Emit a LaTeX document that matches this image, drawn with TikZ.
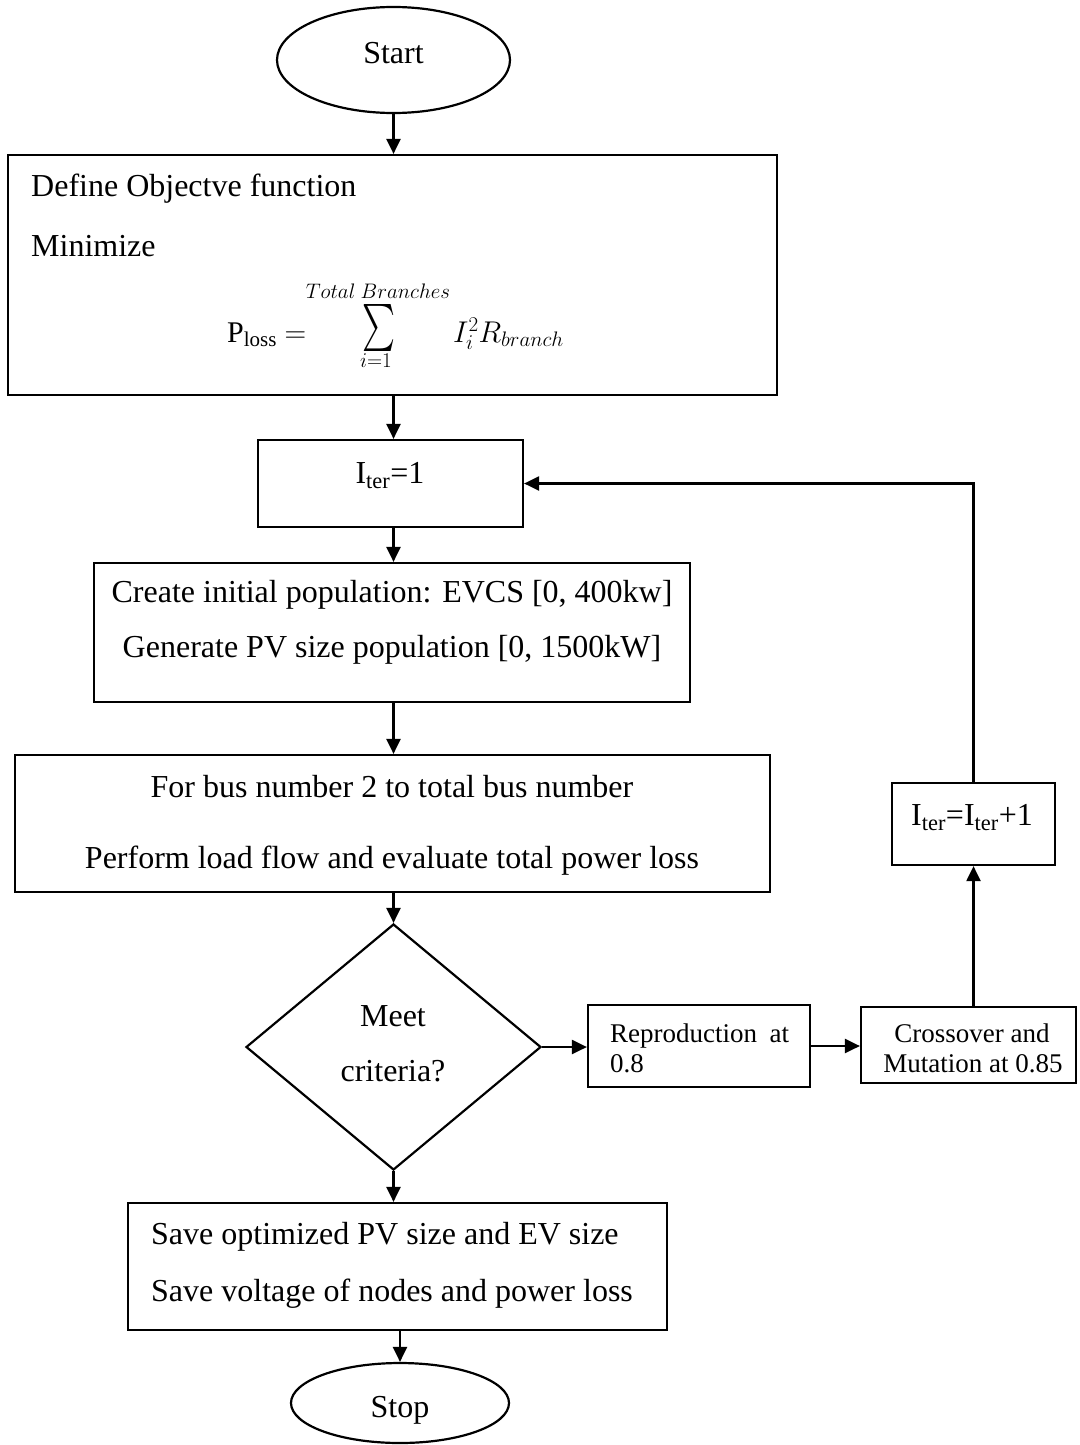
\RequirePackage{fix-cm}
\documentclass[tikz,border=0pt]{standalone}
\usepackage{graphicx}
\usepackage{fontspec}
\setmainfont{Liberation Serif}
\usetikzlibrary{shapes.geometric,arrows.meta}
\begin{document}
\begin{tikzpicture}[x=1pt,y=-1pt,
  box/.style={draw,line width=2.2pt,rectangle,inner sep=0pt},
  term/.style={draw,line width=2.2pt,ellipse,inner sep=0pt},
  decision/.style={draw,line width=2.2pt,diamond,inner sep=0pt},
  txt/.style={inner sep=0pt,text height=21pt,text depth=0pt,font=\fontsize{32}{38}\selectfont},
  smalltxt/.style={inner sep=0pt,text height=18pt,text depth=0pt,font=\fontsize{27}{30}\selectfont},
  mathtxt/.style={inner sep=0pt,font=\fontsize{30}{36}\selectfont},
  limtxt/.style={inner sep=0pt,font=\fontsize{21}{25}\selectfont},
  arr/.style={line width=2.2pt,-{Triangle[length=15pt,width=14pt]}}
]
\useasboundingbox (0,0) rectangle (1079,1445);

% terminals
\node[term,minimum width=233pt,minimum height=106pt] (start) at (393.5,60) {};
\node[txt] (starttxt) at (393.5,53) {Start};
\node[term,minimum width=218pt,minimum height=80pt] (stop) at (400,1403) {};
\node[txt] (stoptxt) at (400,1407) {Stop};

% objective function
\node[box,minimum width=769pt,minimum height=240pt] (obj) at (392.5,275) {};
\node[txt,anchor=west] (obj1) at (31,186) {Define Objectve function};
\node[txt,anchor=west] (obj2) at (31,246) {Minimize};
\node[mathtxt,anchor=base west] (ploss) at (227,342) {P\textsubscript{loss} $=$};
\node[inner sep=0pt] (sigma) at (378.5,328) {\resizebox*{33pt}{47pt}{$\textstyle\sum$}};
\node[limtxt,anchor=south] (sigmatop) at (378,299) {$Total\ Branches$};
\node[limtxt,anchor=north] (sigmabot) at (376,354) {$i{=}1$};
\node[mathtxt,anchor=base west] (lossterm) at (453,342) {$I_i^2R_{branch}$};

% iteration counter
\node[box,minimum width=265pt,minimum height=87pt] (iterone) at (390.5,483.5) {};
\node[txt] (iteronetxt) at (390,473) {I\textsubscript{ter}=1};

% initial population
\node[box,minimum width=596pt,minimum height=139pt] (pop) at (392,632.5) {};
\node[txt] (pop1) at (392,592) {Create initial population: EVCS [0, 400kw]};
\node[txt] (pop2) at (392,647) {Generate PV size population [0, 1500kW]};

% load flow
\node[box,minimum width=755pt,minimum height=137pt] (flow) at (392.5,823.5) {};
\node[txt] (flow1) at (392,787) {For bus number 2 to total bus number};
\node[txt] (flow2) at (392,858) {Perform load flow and evaluate total power loss};

% decision
\node[decision,minimum width=295pt,minimum height=246pt] (dec) at (393.5,1047) {};
\node[txt] (dec1) at (393,1016) {Meet};
\node[txt] (dec2) at (393,1071) {criteria?};

% genetic operators
\node[box,minimum width=222pt,minimum height=82pt] (repro) at (699,1046) {};
\node[smalltxt,anchor=west] (repro1) at (610,1033) {\hbox to 179pt{Reproduction\hfill at}};
\node[smalltxt,anchor=west] (repro2) at (610,1063) {0.8};
\node[box,minimum width=215pt,minimum height=76pt] (cross) at (968.5,1045) {};
\node[smalltxt] (cross1) at (972,1033) {Crossover and};
\node[smalltxt] (cross2) at (973,1063) {Mutation at 0.85};

% counter update
\node[box,minimum width=163pt,minimum height=82pt] (iterplus) at (973.5,824) {};
\node[txt] (iterplustxt) at (972,815) {I\textsubscript{ter}=I\textsubscript{ter}+1};

% results
\node[box,minimum width=539pt,minimum height=127pt] (save) at (397.5,1266.5) {};
\node[txt,anchor=west] (save1) at (151,1234) {Save optimized PV size and EV size};
\node[txt,anchor=west] (save2) at (151,1291) {Save voltage of nodes and power loss};

% main flow
\draw[arr] (start.south) -- (start.south |- obj.north);
\draw[arr] (obj.south -| start) -- (iterone.north -| start);
\draw[arr] (iterone.south -| start) -- (pop.north -| start);
\draw[arr] (pop.south -| start) -- (flow.north -| start);
\draw[arr] (flow.south -| start) -- (dec.north);
\draw[arr] (dec.south) -- (dec.south |- save.north);
\draw[arr] (save.south -| stop.north) -- (stop.north);

% loop back
\draw[arr] (dec.east) -- (dec.east -| repro.west);
\draw[arr] (repro.east) -- (repro.east -| cross.west);
\draw[arr] (cross.north -| iterplus) -- (iterplus.south);
\draw[arr] (iterplus.north) |- (iterone.east);
\end{tikzpicture}
\end{document}
